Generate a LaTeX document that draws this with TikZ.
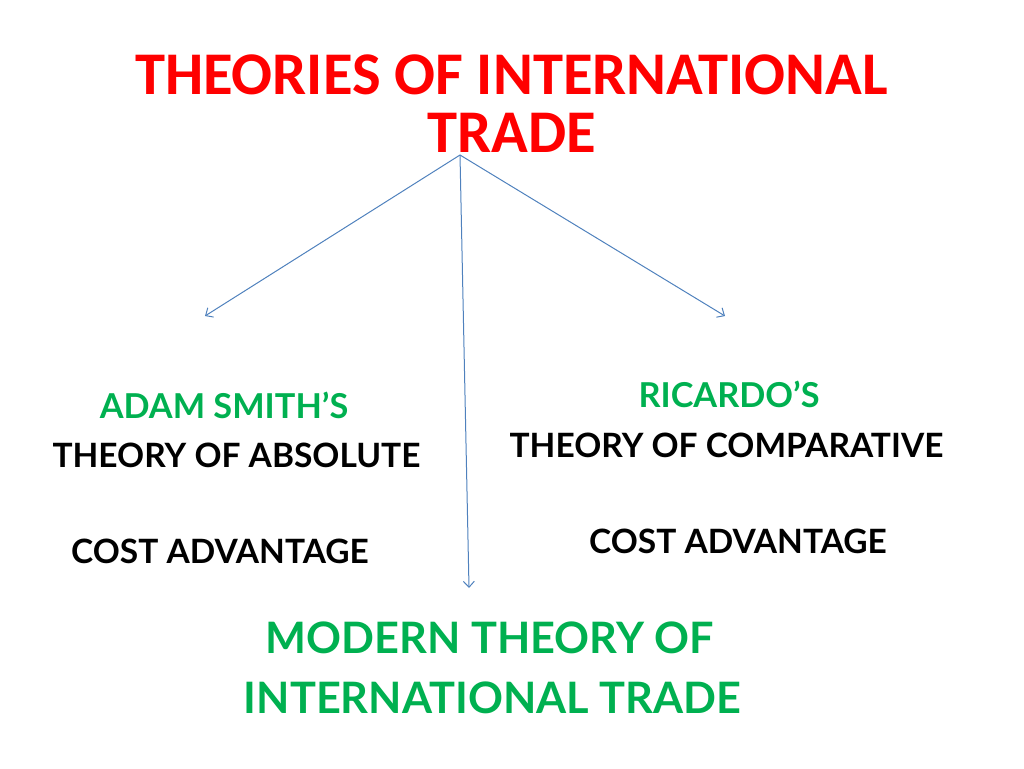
\documentclass[tikz,border=0pt]{standalone}
\usepackage{fontspec}
\setmainfont{Lato}[UprightFont=* Bold]
\newfontfamily\titlefont{Carlito}[UprightFont=* Bold]
\usetikzlibrary{arrows.meta}
\definecolor{titlered}{HTML}{FF0000}
\definecolor{pgreen}{HTML}{00B050}
\definecolor{lineblue}{HTML}{4F81BD}
\tikzset{
  titletext/.style={anchor=base, inner sep=0pt, text=titlered, font=\titlefont\fontsize{60.6}{60.6}\selectfont},
  greenhead/.style={anchor=base, inner sep=0pt, text=pgreen, font=\fontsize{34.3}{34.3}\selectfont},
  blacktext/.style={anchor=base, inner sep=0pt, text=black, font=\fontsize{33.5}{33.5}\selectfont},
  bottomtext/.style={anchor=base, inner sep=0pt, text=pgreen, font=\fontsize{43.3}{43.3}\selectfont},
  branch/.style={draw=lineblue, line width=1pt, -{Straight Barb[length=6pt,width=11pt,line width=1pt]}}
}
\begin{document}
\begin{tikzpicture}[x=1pt,y=-1pt]
\useasboundingbox (0,0) rectangle (1024,768);
\node[titletext] (t1) at (511.5,94) {THEORIES OF INTERNATIONAL};
\node[titletext] (t2) at (512,152) {TRADE};
\coordinate (src) at (460,155);
\coordinate (eleft) at (205,316);
\coordinate (eright) at (725,316);
\coordinate (emid) at (469,588);
\draw[branch] (src) -- (eleft);
\draw[branch] (src) -- (eright);
\draw[branch] (src) -- (emid);
\node[greenhead] (l1) at (224,418) {ADAM SMITH’S};
\node[blacktext] (l2) at (236.5,467) {THEORY OF ABSOLUTE};
\node[blacktext] (l3) at (220,563) {COST ADVANTAGE};
\node[greenhead] (r1) at (729,407) {RICARDO’S};
\node[blacktext] (r2) at (726.5,457) {THEORY OF COMPARATIVE};
\node[blacktext] (r3) at (738,553) {COST ADVANTAGE};
\node[bottomtext] (b1) at (490,653) {MODERN THEORY OF};
\node[bottomtext] (b2) at (492.5,713) {INTERNATIONAL TRADE};
\end{tikzpicture}
\end{document}
